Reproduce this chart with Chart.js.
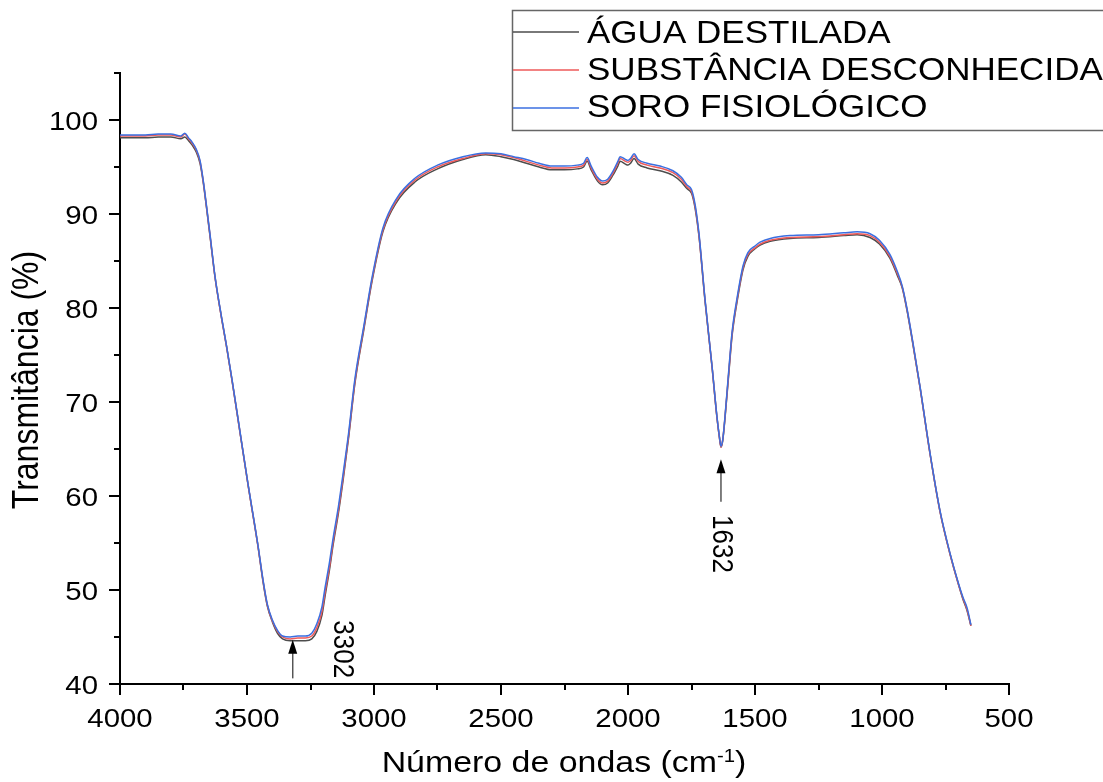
<!DOCTYPE html>
<html>
<head>
<meta charset="utf-8">
<script src="https://cdn.jsdelivr.net/npm/chart.js@4/dist/chart.umd.min.js"></script>
<style>
  html, body { margin: 0; padding: 0; background: #fff; }
</style>
</head>
<body>
<canvas id="myChart" width="1103" height="782"></canvas>
<script>
// FTIR spectra, wavenumber (cm-1) vs transmittance (%)
const wavenumbers = [4000, 3900, 3850, 3800, 3760, 3745, 3730, 3715, 3700, 3685, 3673, 3660, 3645, 3626, 3600, 3580, 3559, 3530, 3496, 3470,
  3457, 3437, 3420, 3400, 3380, 3360, 3330, 3300, 3270, 3245, 3225, 3205, 3193, 3175, 3161, 3140, 3122, 3100, 3075, 3040,
  3008, 2965, 2910, 2839, 2750, 2650, 2560, 2500, 2450, 2400, 2350, 2300, 2250, 2200, 2175, 2161, 2145, 2120, 2100, 2080,
  2060, 2040, 2031, 2010, 2000, 1990, 1976, 1960, 1925, 1874, 1823, 1790, 1768, 1750, 1740, 1730, 1720, 1697, 1669, 1650,
  1640, 1634, 1627, 1618, 1602, 1590, 1571, 1547, 1528, 1500, 1480, 1440, 1362, 1250, 1150, 1098, 1047, 1010, 969, 940,
  920, 902, 880, 850, 811, 772, 732, 700, 681, 665, 650];

const aguaDestilada = [98.1, 98.1, 98.2, 98.2, 98.0, 98.2, 97.8, 97.3, 96.6, 95.4, 93.5, 90.8, 87.5, 83.3, 78.9, 75.8, 72.3, 67.2, 61.2, 56.9,
  54.7, 50.9, 48.3, 46.6, 45.4, 44.8, 44.6, 44.6, 44.6, 44.8, 45.6, 47.3, 49.3, 52.2, 54.8, 58.2, 61.6, 66.2, 72.0, 77.7,
  82.8, 88.1, 91.3, 93.4, 94.8, 95.8, 96.3, 96.1, 95.8, 95.4, 95.0, 94.7, 94.7, 94.8, 95.0, 95.6, 94.7, 93.5, 93.1, 93.3,
  94.1, 95.1, 95.6, 95.3, 95.2, 95.4, 95.9, 95.3, 94.9, 94.6, 94.1, 93.4, 92.7, 92.2, 91.2, 89.6, 87.5, 80.8, 73.7, 68.4,
  66.2, 65.2, 65.9, 68.3, 73.4, 77.1, 80.6, 84.1, 85.5, 86.3, 86.7, 87.1, 87.4, 87.5, 87.7, 87.8, 87.5, 86.8, 85.3, 83.5,
  82.1, 79.8, 76.4, 71.5, 64.5, 58.4, 53.8, 50.7, 49.0, 47.8, 46.2];

const substanciaDesconhecida = [98.3, 98.3, 98.4, 98.4, 98.2, 98.5, 98.0, 97.5, 96.8, 95.6, 93.6, 90.9, 87.6, 83.3, 78.9, 75.8, 72.3, 67.2, 61.2, 56.9,
  54.7, 51.0, 48.4, 46.7, 45.6, 45.0, 44.8, 44.9, 44.9, 45.1, 46.0, 47.7, 49.7, 52.5, 55.1, 58.5, 61.9, 66.4, 72.2, 77.9,
  83.0, 88.3, 91.5, 93.6, 95.0, 95.9, 96.4, 96.3, 96.0, 95.6, 95.2, 94.9, 94.9, 95.0, 95.2, 95.8, 94.9, 93.7, 93.3, 93.5,
  94.3, 95.4, 95.9, 95.6, 95.5, 95.7, 96.2, 95.6, 95.2, 94.9, 94.4, 93.7, 92.9, 92.4, 91.4, 89.8, 87.6, 80.9, 73.7, 68.4,
  66.2, 65.2, 66.0, 68.4, 73.6, 77.3, 80.8, 84.3, 85.7, 86.4, 86.8, 87.2, 87.5, 87.6, 87.8, 87.9, 87.7, 87.0, 85.5, 83.7,
  82.2, 79.9, 76.5, 71.5, 64.5, 58.4, 53.8, 50.7, 49.1, 47.9, 46.2];

const soroFisiologico = [98.4, 98.4, 98.5, 98.5, 98.3, 98.6, 98.1, 97.6, 96.9, 95.7, 93.7, 91.0, 87.7, 83.4, 79.0, 75.9, 72.4, 67.3, 61.3, 57.0,
  54.8, 51.1, 48.5, 46.8, 45.7, 45.1, 45.0, 45.1, 45.1, 45.4, 46.4, 48.2, 50.2, 53.0, 55.5, 58.9, 62.3, 66.7, 72.5, 78.1,
  83.2, 88.5, 91.7, 93.8, 95.2, 96.1, 96.5, 96.4, 96.1, 95.8, 95.4, 95.1, 95.1, 95.2, 95.4, 96.0, 95.1, 93.9, 93.5, 93.7,
  94.5, 95.6, 96.1, 95.8, 95.7, 95.9, 96.4, 95.8, 95.4, 95.1, 94.6, 93.9, 93.1, 92.6, 91.6, 90.0, 87.8, 81.0, 73.8, 68.5,
  66.3, 65.3, 66.0, 68.5, 73.8, 77.5, 81.0, 84.5, 85.9, 86.6, 87.0, 87.4, 87.7, 87.8, 88.0, 88.1, 87.9, 87.2, 85.7, 83.9,
  82.3, 80.0, 76.6, 71.6, 64.6, 58.5, 53.9, 50.8, 49.2, 48.1, 46.3];

const seriesLabels = ["ÁGUA DESTILADA", "SUBSTÂNCIA DESCONHECIDA", "SORO FISIOLÓGICO"];
const seriesColors = ["#4d4d4d", "#ee5a5a", "#3b6fe0"];

const xTicks = [4000, 3500, 3000, 2500, 2000, 1500, 1000, 500];
const xMinorTicks = [3750, 3250, 2750, 2250, 1750, 1250, 750];
const yTicks = [40, 50, 60, 70, 80, 90, 100];
const yMinorTicks = [45, 55, 65, 75, 85, 95, 105];

const peakLabels = ["3302", "1632"];

const FONT = "'Liberation Sans', Arial, sans-serif";
const STRETCH = 1.13; // the original figure text is slightly wide

// arrows + rotated labels, in data units
const annotations = [
  { label: peakLabels[0], arrowX: 3320, from: 40.6, to: 44.7, textX: 3126, textY: 43.7 },
  { label: peakLabels[1], arrowX: 1634, from: 59.4, to: 63.9, textX: 1634, textY: 54.9 },
];

const toPoints = (ys) => wavenumbers.map((w, i) => ({ x: w, y: ys[i] }));

function drawText(ctx, text, x, y, size, align, baseline, rot, sx, sy) {
  ctx.save();
  ctx.translate(x, y);
  if (rot) ctx.rotate(rot);
  ctx.scale(sx || 1, sy || 1);
  ctx.font = size + "px " + FONT;
  ctx.textAlign = align;
  ctx.textBaseline = baseline;
  ctx.fillStyle = "#000";
  ctx.fillText(text, 0, 0);
  ctx.restore();
}

const decor = {
  id: "decor",
  afterDraw(chart) {
    const ctx = chart.ctx;
    const xs = chart.scales.x;
    const ys = chart.scales.y;
    const area = chart.chartArea;
    ctx.save();

    // tick marks
    ctx.strokeStyle = "#000";
    ctx.lineWidth = 2;
    ctx.beginPath();
    xTicks.forEach((v) => {
      const px = Math.round(xs.getPixelForValue(v));
      ctx.moveTo(px, area.bottom); ctx.lineTo(px, area.bottom + 11);
    });
    xMinorTicks.forEach((v) => {
      const px = Math.round(xs.getPixelForValue(v));
      ctx.moveTo(px, area.bottom); ctx.lineTo(px, area.bottom + 6);
    });
    yTicks.forEach((v) => {
      const py = Math.round(ys.getPixelForValue(v));
      ctx.moveTo(area.left, py); ctx.lineTo(area.left - 11, py);
    });
    yMinorTicks.forEach((v) => {
      const py = Math.round(ys.getPixelForValue(v));
      ctx.moveTo(area.left, py); ctx.lineTo(area.left - 6, py);
    });
    ctx.stroke();

    // tick labels
    xTicks.forEach((v) => {
      drawText(ctx, String(v), xs.getPixelForValue(v), area.bottom + 43, 26, "center", "alphabetic", 0, STRETCH, 1);
    });
    yTicks.forEach((v) => {
      drawText(ctx, String(v), area.left - 22, ys.getPixelForValue(v) + 9.5, 26, "right", "alphabetic", 0, STRETCH, 1);
    });

    // arrows
    annotations.forEach((a) => {
      const px = xs.getPixelForValue(a.arrowX);
      const y0 = ys.getPixelForValue(a.from);
      const y1 = ys.getPixelForValue(a.to);
      ctx.strokeStyle = "#555";
      ctx.lineWidth = 1.5;
      ctx.beginPath();
      ctx.moveTo(px, y0); ctx.lineTo(px, y1 + 12);
      ctx.stroke();
      ctx.fillStyle = "#000";
      ctx.beginPath();
      ctx.moveTo(px, y1); ctx.lineTo(px - 4.5, y1 + 14); ctx.lineTo(px + 4.5, y1 + 14);
      ctx.closePath();
      ctx.fill();
      drawText(ctx, a.label, xs.getPixelForValue(a.textX), ys.getPixelForValue(a.textY), 26, "center", "middle", Math.PI / 2, 1, STRETCH);
    });

    // axis titles
    drawText(ctx, "Transmitância (%)", 28, 380, 32, "center", "middle", -Math.PI / 2, 1, STRETCH);

    const t1 = "Número de ondas (cm";
    const t2 = "-1";
    const t3 = ")";
    ctx.font = "30px " + FONT;
    const w1 = ctx.measureText(t1).width * STRETCH;
    const w3 = ctx.measureText(t3).width * STRETCH;
    ctx.font = "18px " + FONT;
    const w2 = ctx.measureText(t2).width * STRETCH;
    const tx = 564 - (w1 + w2 + w3) / 2;
    const base = 772;
    drawText(ctx, t1, tx, base, 30, "left", "alphabetic", 0, STRETCH, 1);
    drawText(ctx, t2, tx + w1, base - 10, 18, "left", "alphabetic", 0, STRETCH, 1);
    drawText(ctx, t3, tx + w1 + w2, base, 30, "left", "alphabetic", 0, STRETCH, 1);

    // legend box
    ctx.strokeStyle = "#666";
    ctx.lineWidth = 1.5;
    ctx.strokeRect(512.5, 10.5, 700, 120);
    const lineRows = [32, 70, 108];
    const textRows = [43, 80, 117];
    chart.data.datasets.forEach((ds, i) => {
      ctx.strokeStyle = ds.borderColor;
      ctx.lineWidth = 1.5;
      ctx.beginPath();
      ctx.moveTo(513, lineRows[i]); ctx.lineTo(579, lineRows[i]);
      ctx.stroke();
      drawText(ctx, ds.label, 587, textRows[i], 31, "left", "alphabetic", 0, STRETCH, 1);
    });

    ctx.restore();
  },
};

const ctx = document.getElementById("myChart").getContext("2d");
const myChart = new Chart(ctx, {
  type: "line",
  data: {
    datasets: [
      { label: seriesLabels[0], data: toPoints(aguaDestilada), borderColor: seriesColors[0], order: 3 },
      { label: seriesLabels[1], data: toPoints(substanciaDesconhecida), borderColor: seriesColors[1], order: 2 },
      { label: seriesLabels[2], data: toPoints(soroFisiologico), borderColor: seriesColors[2], order: 1 },
    ],
  },
  options: {
    responsive: false,
    animation: false,
    devicePixelRatio: 1,
    layout: { padding: { top: 73, right: 94, left: 0, bottom: 0 } },
    elements: {
      point: { radius: 0 },
      line: { borderWidth: 1.5, cubicInterpolationMode: "monotone", fill: false },
    },
    plugins: { legend: { display: false }, tooltip: { enabled: false } },
    scales: {
      x: {
        type: "linear",
        reverse: true,
        min: 500,
        max: 4000,
        afterBuildTicks: (scale) => { scale.ticks = xTicks.map((v) => ({ value: v })); },
        afterFit: (scale) => { scale.height = 98; },
        grid: { display: false, drawTicks: false },
        border: { display: true, color: "#000", width: 2 },
        ticks: { display: false },
      },
      y: {
        type: "linear",
        min: 40,
        max: 105,
        afterBuildTicks: (scale) => { scale.ticks = yTicks.map((v) => ({ value: v })); },
        afterFit: (scale) => { scale.width = 120; },
        grid: { display: false, drawTicks: false },
        border: { display: true, color: "#000", width: 2 },
        ticks: { display: false },
      },
    },
  },
  plugins: [decor],
});
</script>
</body>
</html>
